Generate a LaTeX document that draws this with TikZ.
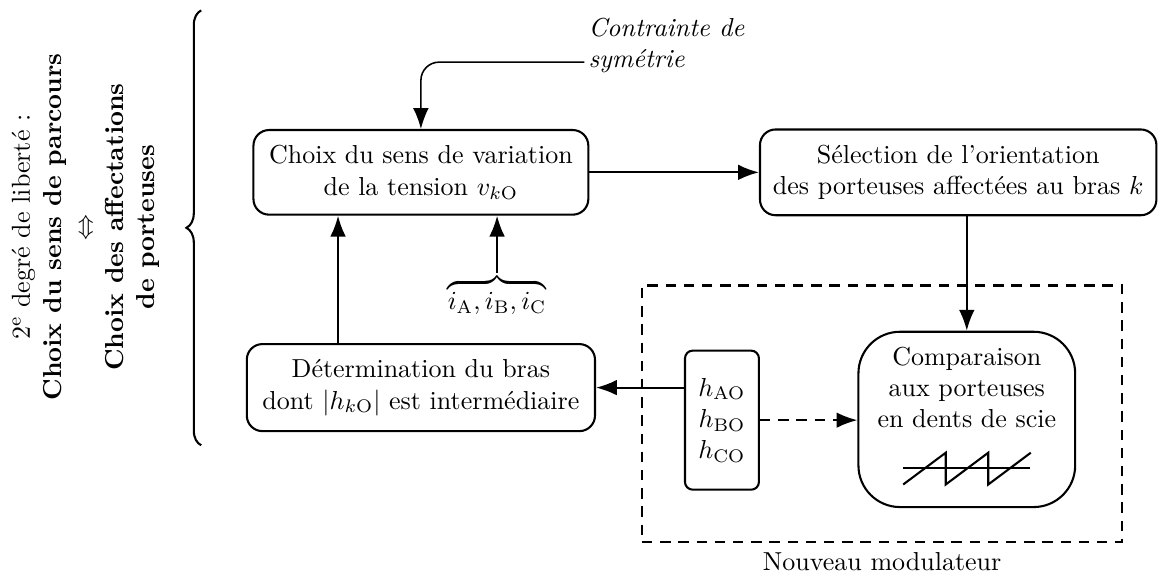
\documentclass[tikz,border=0pt]{standalone}
\usepackage{amsmath,amssymb}
\usepackage{tikz}
\usetikzlibrary{arrows.meta, positioning, calc, decorations.pathreplacing}

\begin{document}
\begin{tikzpicture}[
    bloc/.style={draw, thick, rounded corners=6pt, align=center, inner sep=6pt},
    fleche/.style={thick, -{Latex[length=8pt,width=6pt]}},
    pointille/.style={dash pattern=on 4pt off 3pt}
  ]
  \useasboundingbox (0,0) rectangle (15.79,7.79);
  % left part: rotated text and brace
  \node[rotate=90, align=center] (degre) at (1.16,4.72)
    {2\textsuperscript{e} degr\'e de libert\'e~:\\
     \textbf{Choix du sens de parcours}\\
     $\Leftrightarrow$\\
     \textbf{Choix des affectations}\\
     \textbf{de porteuses}};
  \draw[thick, decorate, decoration={brace, amplitude=0.2cm}]
    (2.72,1.77) -- (2.72,7.65);
  % blocks
  \node[bloc] (choix) at (5.69,5.46)
    {Choix du sens de variation\\de la tension $v_{k\mathrm{O}}$};
  \node[bloc, anchor=west, inner xsep=5pt] (selec) at (10.26,5.46)
    {S\'election de l'orientation\\des porteuses affect\'ees au bras $k$};
  \node[bloc] (determ) at (5.69,2.55)
    {D\'etermination du bras\\dont $|h_{k\mathrm{O}}|$ est interm\'ediaire};
  \node[draw, thick, rounded corners=3pt, align=center,
        minimum width=1cm, minimum height=1.88cm] (hval) at (9.76,2.11)
    {$h_\mathrm{AO}$\\$h_\mathrm{BO}$\\$h_\mathrm{CO}$};
  \node[draw, thick, rounded corners=16pt,
        minimum width=2.93cm, minimum height=2.37cm] (compar) at (13.07,2.12) {};
  \node[anchor=north, align=center, inner sep=6pt] (comptxt) at (compar.north)
    {Comparaison\\aux porteuses\\en dents de scie};
  % sawtooth carrier
  \draw[thick] ($(compar.center)+(-0.86,-0.66)$) -- ++(1.72,0);
  \draw[thick] ($(compar.center)+(-0.86,-0.88)$)
    -- ++(0.575,0.43) -- ++(0,-0.43)
    -- ++(0.575,0.43) -- ++(0,-0.43)
    -- ++(0.575,0.43);
  % new modulator frame
  \node[draw, thick, pointille, minimum width=6.49cm, minimum height=3.47cm]
    (modul) at (11.925,2.195) {};
  \node[below=0pt of modul] (modlab) {Nouveau modulateur};
  % inputs
  \node[inner sep=0pt, anchor=north] (courants) at (6.72,4.10)
    {$\overbrace{i_\mathrm{A}, i_\mathrm{B}, i_\mathrm{C}}$};
  \node[inner sep=0pt, anchor=west, align=left, font=\itshape] (contr) at (7.95,7.17)
    {Contrainte de\\sym\'etrie};
  % connections
  \draw[fleche] (choix.east) -- (selec.west);
  \draw[fleche] (selec.south -| compar) -- (compar.north);
  \draw[fleche] (hval.west |- determ.east) -- (determ.east);
  \draw[fleche, pointille] (hval.east) -- (compar.west |- hval.east);
  \draw[fleche] ([xshift=-1.12cm]determ.north) -- ([xshift=-1.12cm]choix.south);
  \draw[fleche] (courants.north) -- (courants.north |- choix.south);
  \draw[fleche, semithick, rounded corners=7pt]
    ($(contr.west)+(-0.05,-0.22)$) -| (choix.north);
\end{tikzpicture}
\end{document}
